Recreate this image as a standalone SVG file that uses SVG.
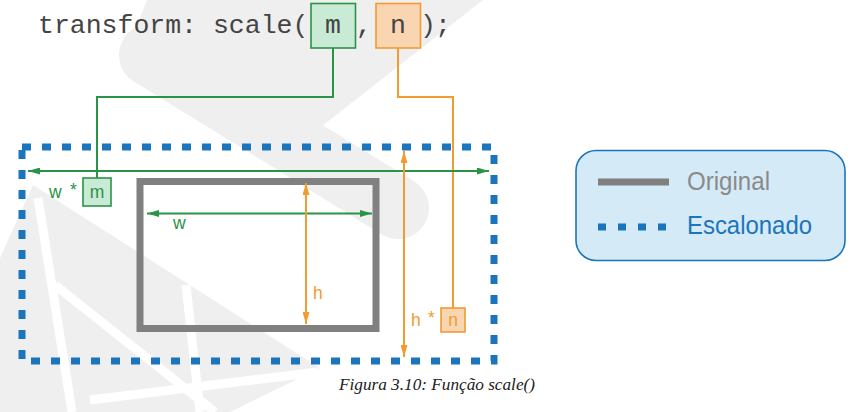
<svg xmlns="http://www.w3.org/2000/svg" width="861" height="412" viewBox="0 0 861 412">
  <style>
    .code { font-family: "Liberation Mono", "DejaVu Sans Mono", monospace; font-size: 26.5px; fill: #444444; }
    .lbl { font-family: "Liberation Sans", Arial, sans-serif; font-size: 17.5px; }
    .g { fill: #2a9446; }
    .o { fill: #f29b30; }
    .gline { stroke: #2a9446; stroke-width: 2; fill: none; }
    .oline { stroke: #f29b30; stroke-width: 2; fill: none; }
    .gbox { fill: #c9ead5; stroke: #2a9446; stroke-width: 1.6; }
    .obox { fill: #f9d5b2; stroke: #f29b30; stroke-width: 1.6; }
    .wm { fill: #efefef; }
    .wmline { stroke: #ffffff; stroke-width: 9; fill: none; }
  </style>
  <defs>
    <marker id="ag" viewBox="0 0 12 7" refX="12" refY="3.5" markerWidth="12" markerHeight="7" markerUnits="userSpaceOnUse" orient="auto-start-reverse">
      <path d="M0,0 L12,3.5 L0,7 Z" fill="#2a9446"/>
    </marker>
    <marker id="ao" viewBox="0 0 12 7" refX="12" refY="3.5" markerWidth="12" markerHeight="7" markerUnits="userSpaceOnUse" orient="auto-start-reverse">
      <path d="M0,0 L12,3.5 L0,7 Z" fill="#f29b30"/>
    </marker>
  </defs>

  <rect x="0" y="0" width="861" height="412" fill="#ffffff"/>

  <!-- watermark -->
  <g id="watermark">
    <path class="wm" d="M147,0 L483,0 L317,130 L200,92 L128,48 Z"/>
    <line x1="150" y1="55" x2="398" y2="208" stroke="#efefef" stroke-width="62" stroke-linecap="round"/>
    <path class="wm" d="M0,258 L33,185 L320,368 L230,412 L0,412 Z"/>
    <line class="wmline" x1="38" y1="198" x2="72" y2="412"/>
    <line class="wmline" x1="55" y1="285" x2="215" y2="412"/>
    <line class="wmline" x1="186" y1="285" x2="200" y2="412"/>
    <line class="wmline" x1="90" y1="400" x2="318" y2="372"/>
  </g>

  <!-- code line -->
  <g id="code">
    <text class="code" x="38" y="33">transform: scale(</text>
    <text class="code" x="364" y="33" text-anchor="middle">,</text>
    <text class="code" x="428" y="33" text-anchor="middle">)</text>
    <text class="code" x="443" y="33" text-anchor="middle">;</text>
  </g>
  <g id="param-m">
    <rect class="gbox" x="311" y="3.5" width="44.5" height="44.5"/>
    <text class="code" x="333" y="33" text-anchor="middle">m</text>
  </g>
  <g id="param-n">
    <rect class="obox" x="376" y="3.5" width="44.5" height="44.5"/>
    <text class="code" x="398" y="33" text-anchor="middle">n</text>
  </g>

  <!-- scaled rectangle -->
  <g id="escalonado">
    <rect x="22" y="147" width="472" height="214" fill="none" stroke="#1b75bc" stroke-width="7" stroke-dasharray="9 11"/>
  </g>

  <!-- original rectangle -->
  <g id="original">
    <rect x="140" y="181.5" width="236" height="147" fill="none" stroke="#808080" stroke-width="7"/>
  </g>

  <!-- connectors -->
  <g id="connectors">
    <polyline class="gline" points="333,48 333,97 97,97 97,178"/>
    <polyline class="oline" points="398,48 398,97 453,97 453,308"/>
    <line class="gline" x1="28" y1="171" x2="489" y2="171" marker-start="url(#ag)" marker-end="url(#ag)"/>
    <line class="gline" x1="147" y1="213.5" x2="372" y2="213.5" marker-start="url(#ag)" marker-end="url(#ag)"/>
    <line class="oline" x1="306" y1="183" x2="306" y2="324" marker-start="url(#ao)" marker-end="url(#ao)"/>
    <line class="oline" x1="404" y1="151" x2="404" y2="357" marker-start="url(#ao)" marker-end="url(#ao)"/>
  </g>

  <!-- labels -->
  <g id="label-wm">
    <text class="lbl g" x="49" y="198">w</text>
    <text class="lbl g" x="70" y="196">*</text>
    <rect class="gbox" x="83" y="178" width="28" height="28"/>
    <text class="lbl g" x="97" y="198" text-anchor="middle">m</text>
  </g>
  <g id="label-w">
    <text class="lbl g" x="173" y="229">w</text>
  </g>
  <g id="label-h">
    <text class="lbl o" x="313" y="299">h</text>
  </g>
  <g id="label-hn">
    <text class="lbl o" x="411" y="326">h</text>
    <text class="lbl o" x="428" y="324">*</text>
    <rect class="obox" x="441" y="308" width="24" height="24"/>
    <text class="lbl o" x="453" y="326" text-anchor="middle">n</text>
  </g>

  <!-- legend -->
  <g id="legend">
    <rect x="576" y="150.5" width="269" height="110" rx="20" ry="20" fill="#d4eaf6" stroke="#1b75bc" stroke-width="1.6"/>
    <line x1="598" y1="182" x2="669" y2="182" stroke="#808080" stroke-width="7"/>
    <text x="687" y="190" font-family="Liberation Sans, Arial, sans-serif" font-size="25" fill="#8a8a8a" textLength="83" lengthAdjust="spacingAndGlyphs">Original</text>
    <line x1="598" y1="227" x2="669" y2="227" stroke="#1b75bc" stroke-width="7" stroke-dasharray="8 12"/>
    <text x="687" y="234" font-family="Liberation Sans, Arial, sans-serif" font-size="25" fill="#1b75bc" textLength="125" lengthAdjust="spacingAndGlyphs">Escalonado</text>
  </g>

  <!-- caption -->
  <text x="339" y="390" font-family="Liberation Serif, 'Times New Roman', serif" font-style="italic" font-size="17" fill="#222222" textLength="196" lengthAdjust="spacingAndGlyphs">Figura 3.10: Função scale()</text>
</svg>
